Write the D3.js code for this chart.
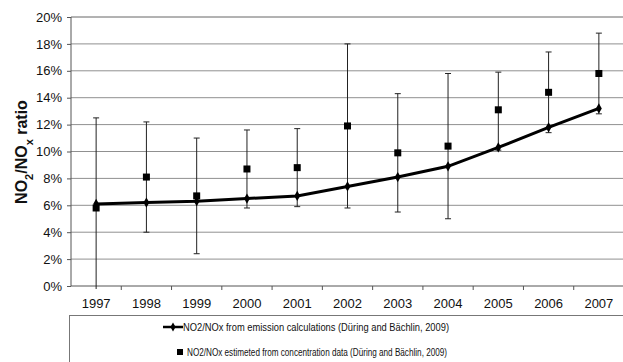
<!DOCTYPE html>
<html>
<head>
<meta charset="utf-8">
<script src="https://cdn.jsdelivr.net/npm/d3@7"></script>
<style>
  body { margin: 0; background: #fff; }
  text { font-family: "Liberation Sans", Arial, sans-serif; fill: #111; }
</style>
</head>
<body>
<div id="chart"></div>
<script>
var years = ["1997","1998","1999","2000","2001","2002","2003","2004","2005","2006","2007"];
var emission = [6.1, 6.2, 6.3, 6.5, 6.7, 7.4, 8.1, 8.9, 10.3, 11.8, 13.2];
var concentration = [5.8, 8.1, 6.7, 8.7, 8.8, 11.9, 9.9, 10.4, 13.1, 14.4, 15.8];
var errHigh = [12.5, 12.2, 11.0, 11.6, 11.7, 18.0, 14.3, 15.8, 15.9, 17.4, 18.8];
var errLow = [0, 4.0, 2.4, 5.8, 5.9, 5.8, 5.5, 5.0, 10.1, 11.4, 12.8];
var yTicks = [0, 2, 4, 6, 8, 10, 12, 14, 16, 18, 20];
var legendLabels = [
  "NO2/NOx from emission calculations (Düring and Bächlin, 2009)",
  "NO2/NOx estimeted from concentration data (Düring and Bächlin, 2009)"
];

var width = 623, height = 362;
var plotLeft = 71, plotRight = 624, plotTop = 17, plotBottom = 286;

var svg = d3.select("#chart").append("svg")
  .attr("width", width)
  .attr("height", height);

var x = d3.scaleBand().domain(years).range([plotLeft, plotRight]);
var y = d3.scaleLinear().domain([0, 20]).range([plotBottom, plotTop]);

// gridlines
svg.append("g")
  .selectAll("line")
  .data(yTicks.slice(1))
  .enter().append("line")
  .attr("x1", plotLeft).attr("x2", plotRight)
  .attr("y1", function(d){ return y(d); })
  .attr("y2", function(d){ return y(d); })
  .attr("stroke", function(d){ return d === 20 ? "#666" : "#909090"; })
  .attr("stroke-width", 1);

// y axis
var yAxis = svg.append("g")
  .attr("transform", "translate(" + plotLeft + ",0)")
  .call(d3.axisLeft(y).tickValues(yTicks).tickSize(4).tickPadding(5)
    .tickFormat(function(d){ return d + "%"; }));
yAxis.selectAll("text").style("font-size", "13px").attr("fill", "#111");
yAxis.selectAll("line, path").attr("stroke", "#555");
yAxis.select(".domain").attr("d", "M0," + plotBottom + "V" + plotTop);

// x axis
var xAxis = svg.append("g")
  .attr("transform", "translate(0," + plotBottom + ")")
  .call(d3.axisBottom(x).tickSize(0).tickPadding(13));
xAxis.selectAll("text").style("font-size", "13px").attr("fill", "#111");
xAxis.select(".domain").attr("stroke", "#555").attr("d", "M" + plotLeft + ",0H" + plotRight);
xAxis.selectAll(".cat-tick")
  .data(years.slice(1))
  .enter().append("line")
  .attr("class", "cat-tick")
  .attr("x1", function(d){ return x(d); })
  .attr("x2", function(d){ return x(d); })
  .attr("y1", 0).attr("y2", 4)
  .attr("stroke", "#555");

var cx = function(i){ return x(years[i]) + x.bandwidth() / 2; };

// error bars
var eb = svg.append("g").attr("stroke", "#222").attr("stroke-width", 1);
years.forEach(function(yr, i){
  eb.append("line")
    .attr("x1", cx(i)).attr("x2", cx(i))
    .attr("y1", y(errHigh[i])).attr("y2", y(errLow[i]) + (errLow[i] === 0 ? 3 : 0));
  eb.append("line")
    .attr("x1", cx(i) - 3).attr("x2", cx(i) + 3)
    .attr("y1", y(errHigh[i])).attr("y2", y(errHigh[i]));
  if (errLow[i] > 0) {
    eb.append("line")
      .attr("x1", cx(i) - 3).attr("x2", cx(i) + 3)
      .attr("y1", y(errLow[i])).attr("y2", y(errLow[i]));
  }
});

// emission line
var line = d3.line()
  .x(function(d, i){ return cx(i); })
  .y(function(d){ return y(d); });
svg.append("path")
  .datum(emission)
  .attr("d", line)
  .attr("fill", "none")
  .attr("stroke", "#000")
  .attr("stroke-width", 3);
svg.append("g")
  .selectAll("path")
  .data(emission)
  .enter().append("path")
  .attr("d", d3.symbol().type(d3.symbolDiamond).size(30))
  .attr("transform", function(d, i){ return "translate(" + cx(i) + "," + y(d) + ")"; })
  .attr("fill", "#000");

// concentration squares
svg.append("g")
  .selectAll("rect")
  .data(concentration)
  .enter().append("rect")
  .attr("x", function(d, i){ return cx(i) - 3.5; })
  .attr("y", function(d){ return y(d) - 3.5; })
  .attr("width", 7).attr("height", 7)
  .attr("fill", "#000");

// y axis title
var title = svg.append("text")
  .attr("transform", "translate(27,152) rotate(-90)")
  .attr("text-anchor", "middle")
  .style("font-size", "16px")
  .style("font-weight", "bold");
title.append("tspan").text("NO");
title.append("tspan").attr("baseline-shift", "sub").style("font-size", "11px").text("2");
title.append("tspan").text("/NO");
title.append("tspan").attr("baseline-shift", "sub").style("font-size", "11px").text("x");
title.append("tspan").text(" ratio");

// legend
var legend = svg.append("g");
legend.append("rect")
  .attr("x", 69.5).attr("y", 315.5)
  .attr("width", 560).attr("height", 60)
  .attr("fill", "none")
  .attr("stroke", "#777");
legend.append("line")
  .attr("x1", 163).attr("x2", 183).attr("y1", 327).attr("y2", 327)
  .attr("stroke", "#000").attr("stroke-width", 2.5);
legend.append("path")
  .attr("d", d3.symbol().type(d3.symbolDiamond).size(24))
  .attr("transform", "translate(173,327)");
legend.append("text")
  .attr("x", 183).attr("y", 331)
  .attr("textLength", 266)
  .attr("lengthAdjust", "spacingAndGlyphs")
  .style("font-size", "11px")
  .text(legendLabels[0]);
legend.append("rect")
  .attr("x", 177).attr("y", 349).attr("width", 6).attr("height", 6)
  .attr("fill", "#000");
legend.append("text")
  .attr("x", 187).attr("y", 356)
  .attr("textLength", 260)
  .attr("lengthAdjust", "spacingAndGlyphs")
  .style("font-size", "11px")
  .text(legendLabels[1]);
</script>
</body>
</html>
